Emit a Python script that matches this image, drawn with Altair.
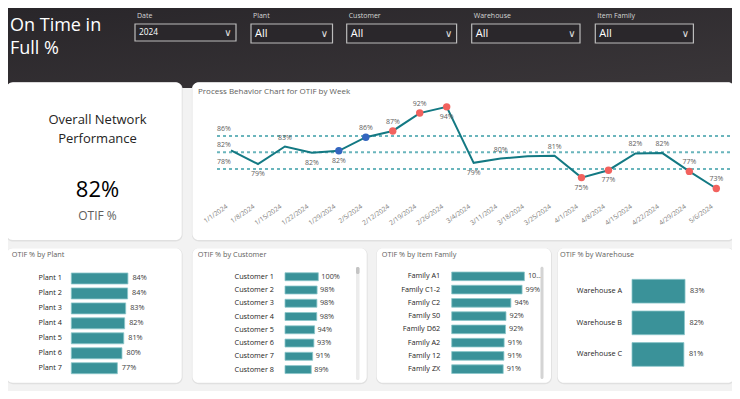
import altair as alt
import pandas as pd

# ---------------- data ----------------
weeks = ["1/1/2024", "1/8/2024", "1/15/2024", "1/22/2024", "1/29/2024", "2/5/2024",
         "2/12/2024", "2/19/2024", "2/26/2024", "3/4/2024", "3/11/2024", "3/18/2024",
         "3/25/2024", "4/1/2024", "4/8/2024", "4/15/2024", "4/22/2024", "4/29/2024", "5/6/2024"]
weekly_otif = [82.4, 78.9, 83.4, 81.8, 82.3, 85.8, 87.4, 92.0, 93.6, 79.2,
               80.3, 80.9, 81.0, 75.4, 77.3, 81.6, 81.7, 77.0, 72.6]
weekly_signal = ["none", "none", "none", "none", "run", "run", "outside", "outside", "outside", "none",
                 "none", "none", "none", "outside", "outside", "none", "none", "outside", "outside"]
limit_names = ["UCL", "Mean", "LCL"]
limit_values = [86.1, 81.9, 77.6]

overall_otif = 82.0

plants = ["Plant 1", "Plant 2", "Plant 3", "Plant 4", "Plant 5", "Plant 6", "Plant 7"]
plant_otif = [84.1, 83.9, 82.6, 81.9, 81.3, 80.1, 77.0]

customers = ["Customer 1", "Customer 2", "Customer 3", "Customer 4",
             "Customer 5", "Customer 6", "Customer 7", "Customer 8"]
customer_otif = [100.0, 98.1, 97.8, 97.6, 94.2, 93.1, 91.2, 89.0]

families = ["Family A1", "Family C1-2", "Family C2", "Family S0",
            "Family D62", "Family A2", "Family 12", "Family ZX"]
family_otif = [100.0, 99.0, 94.2, 92.1, 91.9, 91.3, 91.2, 90.9]

warehouses = ["Warehouse A", "Warehouse B", "Warehouse C"]
warehouse_otif = [83.0, 82.1, 81.2]

filter_names = ["Date", "Plant", "Customer", "Warehouse", "Item Family"]
filter_values = ["2024", "All", "All", "All", "All"]

# ---------------- style ----------------
FONT = "Open Sans"
DARK = "#252423"
GRAY = "#605e5c"
LIGHT = "#7d7b79"
TEAL_LINE = "#137983"
LIMIT = "#6ab5bc"
BAR = "#3a9299"
BAR_EDGE = "#8cc6ca"
RED = "#f2625e"
BLUE = "#3466bf"

OFF = 8


def R(v):
    return v - OFF


ONE = pd.DataFrame({"k": [0]})


def rect(x0, y0, x1, y1, fill, radius=0, **kw):
    return alt.Chart(ONE).mark_rect(fill=fill, cornerRadius=radius, **kw).encode(
        x=alt.value(R(x0)), x2=alt.value(R(x1)), y=alt.value(R(y0)), y2=alt.value(R(y1)))


def text(s, x, y, size, color, align="left", font=FONT):
    return alt.Chart(ONE).mark_text(text=s, align=align, baseline="middle", fontSize=size,
                                    color=color, font=font).encode(
        x=alt.value(R(x)), y=alt.value(R(y)))


def card(x0, y0, x1, y1):
    return [rect(x0 - 0.6, y0 - 0.3, x1 + 0.9, y1 + 1.6, "#e0e0e0", radius=7),
            rect(x0, y0, x1, y1, "white", radius=6)]


layers = []

# header
layers.append(
    alt.Chart(ONE).mark_rect(
        fill=alt.Gradient(gradient="linear",
                          stops=[alt.GradientStop(color="#29262a", offset=0),
                                 alt.GradientStop(color="#3a3639", offset=1)],
                          x1=0, x2=1, y1=0, y2=1)
    ).encode(x=alt.value(0), x2=alt.value(724), y=alt.value(0), y2=alt.value(R(88)))
)
layers.append(text("On Time in", 10, 26, 18, "white"))
layers.append(text("Full %", 10, 49, 18, "white"))

dd_boxes = [(135, 236, 41), (251, 332.5, 43), (346.7, 456.6, 43), (471.7, 580, 43), (595.3, 693.4, 43)]
for name, val, (x0, x1, yb) in zip(filter_names, filter_values, dd_boxes):
    layers.append(rect(x0, 24, x1, yb, "#2a272b", stroke="#bcbcbc", strokeWidth=1.2))
    layers.append(text(name, x0 + 2, 16, 7, "#d6d6d6"))
    layers.append(text(val, x0 + 4, (24 + yb) / 2 + 0.5, 8.3 if name == "Date" else 11, "white"))
    layers.append(text("∨", x1 - 8, (24 + yb) / 2, 10, "#e0e0e0", align="center", font="DejaVu Sans"))

# cards
layers += card(6.7, 82.5, 181.7, 240)
layers += card(192.5, 82.5, 734, 240)
layers += card(6.7, 248.3, 181.7, 382.7)
layers += card(192.5, 248.3, 366.7, 382.7)
layers += card(376.7, 248.3, 551, 382.7)
layers += card(557.7, 248.3, 734, 382.7)

# KPI card
layers.append(text("Overall Network", 97.5, 119.5, 13, DARK, align="center"))
layers.append(text("Performance", 97.5, 139, 13, DARK, align="center"))
layers.append(
    alt.Chart(pd.DataFrame({"v": [overall_otif / 100]})).mark_text(
        align="center", baseline="middle", fontSize=22, color="black", font=FONT
    ).encode(text=alt.Text("v:Q", format=".0%"), x=alt.value(R(97.5)), y=alt.value(R(190)))
)
layers.append(text("OTIF %", 97.5, 216, 12, GRAY, align="center"))

# ---------------- process behaviour chart ----------------
LABEL_BELOW = ["1/8/2024", "1/22/2024", "1/29/2024", "2/26/2024", "3/4/2024", "4/1/2024", "4/8/2024"]
LABEL_HIDDEN = ["1/1/2024", "3/18/2024"]

pbc = pd.DataFrame({"week": weeks, "v": [x / 100 for x in weekly_otif], "signal": weekly_signal})
pbc["pos"] = ["hidden" if w in LABEL_HIDDEN else ("below" if w in LABEL_BELOW else "above") for w in weeks]
lim = pd.DataFrame({"name": limit_names, "v": [x / 100 for x in limit_values]})

X_PBC = alt.Scale(type="point", domain=weeks, range=[R(231), R(716.3)], padding=0)
Y_PBC = alt.Scale(domain=[0.70, 0.95], range=[190.6, 93.4], zero=False, nice=False)
XP = alt.X("week:O", scale=X_PBC, axis=None, sort=weeks)
YP = alt.Y("v:Q", scale=Y_PBC, axis=None)

layers.append(text("Process Behavior Chart for OTIF by Week", 198, 92, 8, GRAY))
layers.append(
    alt.Chart(lim).mark_rule(color=LIMIT, strokeWidth=2, strokeDash=[3, 3]).encode(
        y=YP, x=alt.value(R(217)), x2=alt.value(R(733)))
)
layers.append(
    alt.Chart(lim).mark_text(align="center", baseline="middle", dy=-7, fontSize=7,
                             color=GRAY, font=FONT).encode(
        y=YP, x=alt.value(R(224)), text=alt.Text("v:Q", format=".0%"))
)
layers.append(alt.Chart(pbc).mark_line(color=TEAL_LINE, strokeWidth=2).encode(x=XP, y=YP))
layers.append(
    alt.Chart(pbc).transform_filter("datum.signal != 'none'").mark_circle(size=55, opacity=1).encode(
        x=XP, y=YP,
        color=alt.Color("signal:N", scale=alt.Scale(domain=["run", "outside"], range=[BLUE, RED]),
                        legend=None))
)
for pos, dy in [("above", -9), ("below", 10)]:
    layers.append(
        alt.Chart(pbc).transform_filter(f"datum.pos == '{pos}'").mark_text(
            align="center", baseline="middle", dy=dy, fontSize=7, color=GRAY, font=FONT
        ).encode(x=XP, y=YP, text=alt.Text("v:Q", format=".0%"))
    )
layers.append(
    alt.Chart(pbc).mark_text(angle=325, align="right", baseline="middle", fontSize=6.6,
                             color=LIGHT, font=FONT).encode(
        x=alt.X("week:O", scale=alt.Scale(type="point", domain=weeks,
                                          range=[R(227), R(712.3)], padding=0),
                axis=None, sort=weeks),
        y=alt.value(R(206)), text="week:N")
)


# ---------------- bar panels ----------------
def bar_panel(cats, vals, xdom, xrange, yrange, pad_inner, cat_right, val_dx, title, title_x,
              trunc=None):
    df = pd.DataFrame({"cat": cats, "v": [x / 100 for x in vals]})
    xs = alt.Scale(domain=xdom, range=xrange, zero=False, nice=False)
    ys = alt.Scale(type="band", domain=cats, range=yrange,
                   paddingInner=pad_inner, paddingOuter=pad_inner / 2)
    X = alt.X("v:Q", scale=xs, axis=None)
    Y = alt.Y("cat:N", scale=ys, axis=None, sort=cats)
    out = [text(title, title_x, 255, 7.3, GRAY)]
    out.append(alt.Chart(df).mark_bar(fill=BAR, stroke=BAR_EDGE, strokeWidth=0.8).encode(
        x=X, x2=alt.datum(xdom[0]), y=Y))
    out.append(alt.Chart(df).mark_text(align="right", baseline="middle", fontSize=7.3,
                                       color=DARK, font=FONT).encode(
        x=alt.value(R(cat_right)), y=Y, text="cat:N"))
    if trunc is None:
        out.append(alt.Chart(df).mark_text(align="left", baseline="middle", dx=val_dx, fontSize=7.3,
                                           color="#3b3a39", font=FONT).encode(
            x=X, y=Y, text=alt.Text("v:Q", format=".0%")))
    else:
        out.append(alt.Chart(df).transform_filter("datum.v < 0.995").mark_text(
            align="left", baseline="middle", dx=val_dx, fontSize=7.3,
            color="#3b3a39", font=FONT).encode(x=X, y=Y, text=alt.Text("v:Q", format=".0%")))
        out.append(alt.Chart(df).transform_filter("datum.v >= 0.995").mark_text(
            align="left", baseline="middle", dx=val_dx, fontSize=7.3, limit=trunc,
            color="#3b3a39", font=FONT).encode(x=X, y=Y, text=alt.Text("v:Q", format=".0%")))
    return out


layers += bar_panel(plants, plant_otif, [0.46, 1.0], [R(71.3), R(71.3) + 54 * 1.486],
                    [R(271.0), R(375.7)], 0.264, 62, 4.5, "OTIF % by Plant", 11.7)
layers += bar_panel(customers, customer_otif, [0.48, 1.0], [R(285), R(318.3)],
                    [R(270.1), R(376.2)], 0.4, 274, 3, "OTIF % by Customer", 197.7)
layers += bar_panel(families, family_otif, [0.688, 1.0], [R(451.7), R(524.4)],
                    [R(269.7), R(375.8)], 0.35, 440.3, 3.5, "OTIF % by Item Family", 381.7,
                    trunc=15)
layers += bar_panel(warehouses, warehouse_otif, [0.0, 1.0], [R(632), R(695.9)],
                    [R(275.4), R(370.3)], 0.25, 622, 5, "OTIF % by Warehouse", 560)

# scrollbars
layers.append(rect(356, 267, 359.5, 380, "#ececec", radius=1.5))
layers.append(rect(356, 267, 359.5, 274, "#c4c4c4", radius=1.5))
layers.append(rect(540.5, 266.7, 543.5, 379, "#d4d4d4", radius=1.5))

chart = alt.layer(*layers).resolve_scale(
    x="independent", y="independent", color="independent"
).properties(
    width=724, height=383, autosize=alt.AutoSizeParams(type="none"), padding=0,
    background="#f2f2f2"
).configure_view(stroke=None)

chart.save("out.html", embed_options={"renderer": "svg", "actions": False})
